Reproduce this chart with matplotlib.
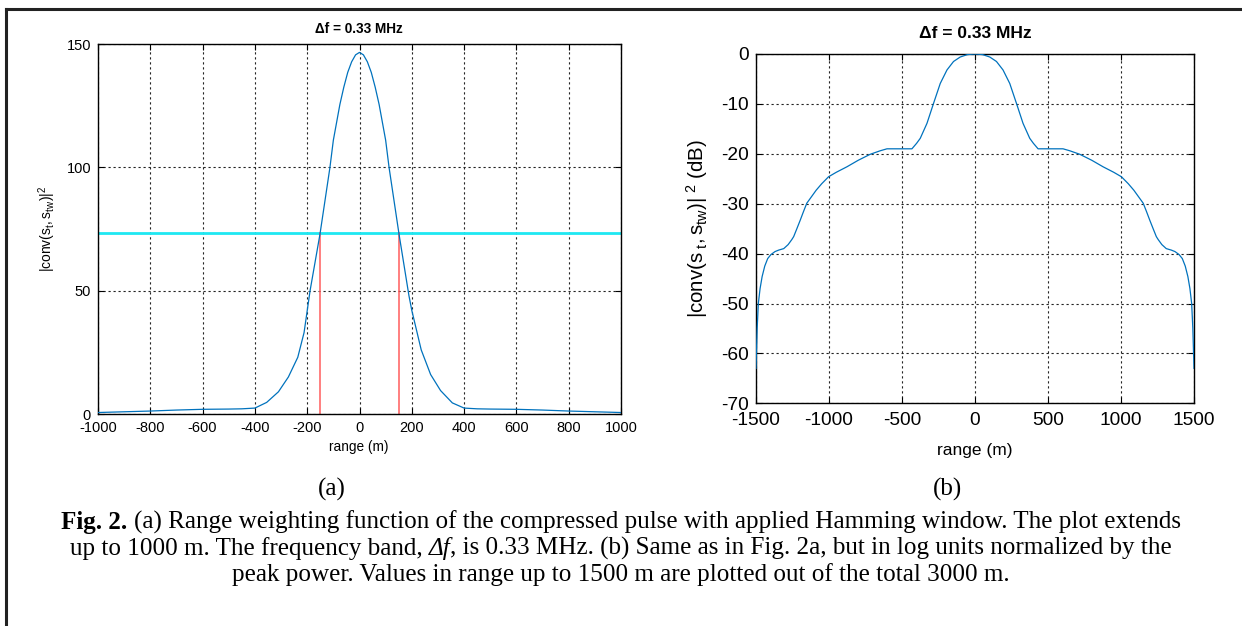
import matplotlib
matplotlib.use('Agg')
import matplotlib.pyplot as plt
from matplotlib.transforms import IdentityTransform
from matplotlib.lines import Line2D

# ---------------- data ----------------
# (a) linear power vs range
range_a = [-1000, -900, -800, -700, -600, -500, -450, -400, -355, -310, -272, -236,
           -212, -189, -151, -113, -100, -75, -60, -45, -30, -15, 0, 15, 30, 45, 60, 75, 100,
           113, 151, 189, 200, 236, 272, 310, 355, 400, 450, 500, 600, 700, 800, 900, 1000]
power_a = [0.6, 0.9, 1.2, 1.6, 1.9, 2.0, 2.1, 2.4, 4.7, 9.0, 15.0, 23.0,
           33.0, 50.0, 73.0, 100.0, 111.0, 125.5, 132.5, 138.5, 142.8, 145.6, 146.6, 145.6, 142.8, 138.5, 132.5, 125.5, 111.0,
           100.0, 73.0, 48.0, 42.0, 26.0, 16.0, 9.5, 4.5, 2.4, 2.1, 2.0, 1.9, 1.6, 1.2, 0.9, 0.6]
half_power = 73.3
half_width_x = [-150, 150]
cyan_x = [-1000, 1000]

# (b) normalized power in dB vs range
range_b = [-1500, -1497, -1492, -1484, -1472, -1458, -1440, -1420, -1398, -1370, -1345,
           -1310, -1280, -1255, -1242, -1220, -1197, -1175, -1152, -1120, -1088, -1050,
           -1003, -950, -877, -800, -718, -650, -603, -520, -432, -400, -375, -329, -284,
           -238, -192, -147, -101, -50, 0,
           50, 101, 147, 192, 238, 284, 329, 375, 400, 432, 520, 603, 650, 718, 800, 877,
           950, 1003, 1050, 1088, 1120, 1152, 1175, 1197, 1220, 1242, 1255, 1280, 1310,
           1345, 1370, 1398, 1420, 1440, 1458, 1472, 1484, 1492, 1497, 1500]
db_b = [-63.0, -60.0, -55.0, -50.0, -47.0, -44.6, -42.5, -41.0, -40.2, -39.6, -39.3,
        -39.0, -38.2, -37.2, -36.6, -35.0, -33.3, -31.6, -29.9, -28.6, -27.3, -26.0,
        -24.6, -23.7, -22.6, -21.3, -20.1, -19.4, -19.0, -19.0, -19.0, -17.9, -16.9, -13.9, -9.9,
        -5.9, -3.2, -1.5, -0.6, -0.1, 0.0,
        -0.1, -0.6, -1.5, -3.2, -5.9, -9.9, -13.9, -16.9, -17.9, -19.0, -19.0, -19.0, -19.4, -20.1, -21.3, -22.6,
        -23.7, -24.6, -26.0, -27.3, -28.6, -29.9, -31.6, -33.3, -35.0, -36.6, -37.2, -38.2, -39.0,
        -39.3, -39.6, -40.2, -41.0, -42.5, -44.6, -47.0, -50.0, -55.0, -60.0, -63.0]

xticks_a = list(range(-1000, 1001, 200))
yticks_a = [0, 50, 100, 150]
xticks_b = list(range(-1500, 1501, 500))
yticks_b = list(range(-70, 1, 10))

title_txt = 'Δf = 0.33 MHz'
xlabel_txt = 'range (m)'
ylabel_a = r'$|\mathrm{conv(s}_{\mathrm{t}}\mathrm{,s}_{\mathrm{tw}}\mathrm{)|}^{2}$'
ylabel_b = r'$|\mathrm{conv(s}_{\ \mathrm{t}}\mathrm{,s}_{\mathrm{tw}}\mathrm{)|}^{\ 2}\ \mathrm{(dB)}$'

cap_line1 = [("Fig. 2.", dict(fontweight='bold'), False),
             ("(a) Range weighting function of the compressed pulse with applied Hamming window. The plot extends", {}, True)]
cap_line2 = [("up to 1000 m. The frequency band,", {}, False),
             ("Δf", dict(style='italic'), True),
             (", is 0.33 MHz. (b) Same as in Fig. 2a, but in log units normalized by the", {}, False)]
cap_line3 = [("peak power. Values in range up to 1500 m are plotted out of the total 3000 m.", {}, False)]

# ---------------- figure ----------------
W, H = 1242, 626
plt.rcParams['font.family'] = ['Liberation Sans', 'DejaVu Sans']
plt.rcParams['axes.unicode_minus'] = False
plt.rcParams['mathtext.fontset'] = 'custom'
plt.rcParams['mathtext.rm'] = 'Liberation Sans'
plt.rcParams['mathtext.it'] = 'Liberation Sans:italic'
plt.rcParams['mathtext.bf'] = 'Liberation Sans:bold'

fig = plt.figure(figsize=(W / 100, H / 100), dpi=100)
fig.patch.set_facecolor('white')
ID = IdentityTransform()


def rect(l, t, r, b):
    return [l / W, 1 - b / H, (r - l) / W, (b - t) / H]


BLUE = '#0072BD'
grid_kw = dict(color='#222222', linestyle=(0, (2, 2.5)), linewidth=0.8)

# ---- (a)
axA = fig.add_axes(rect(98, 44, 621, 414))
axA.plot(range_a, power_a, color=BLUE, lw=0.9, zorder=3)
axA.plot(cyan_x, [half_power, half_power], color='#1ee8f2', lw=2.0, zorder=2)
for xv in half_width_x:
    axA.plot([xv, xv], [0, half_power], color='#ff5c5c', lw=1.1, zorder=2)
axA.set_xlim(-1000, 1000)
axA.set_ylim(0, 150)
axA.set_xticks(xticks_a)
axA.set_yticks(yticks_a)
axA.grid(True, **grid_kw)
axA.tick_params(direction='in', top=True, right=True, length=4, width=0.8,
                labelsize=10.5, pad=5)
for s in axA.spines.values():
    s.set_linewidth(1.0)

# ---- (b)
axB = fig.add_axes(rect(756, 54, 1194, 403.3))
axB.plot(range_b, db_b, color=BLUE, lw=0.9, zorder=3)
axB.set_xlim(-1500, 1500)
axB.set_ylim(-70, 0)
axB.set_xticks(xticks_b)
axB.set_yticks(yticks_b)
axB.grid(True, **grid_kw)
axB.tick_params(direction='in', top=True, right=True, length=4, width=0.8,
                labelsize=13.8, pad=5)
axB.tick_params(axis='x', pad=6)
for s in axB.spines.values():
    s.set_linewidth(1.0)

# titles and labels (pixel positions, y from top)
def ftext(x, y, s, **kw):
    return fig.text(x, H - y, s, transform=ID, **kw)

ftext(359, 29, title_txt, ha='center', va='center', fontsize=9.8, fontweight='bold')
ftext(975, 33, title_txt, ha='center', va='center', fontsize=12.5, fontweight='bold')
ftext(359, 447, xlabel_txt, ha='center', va='center', fontsize=9.8)
ftext(975, 451, xlabel_txt, ha='center', va='center', fontsize=12.5)
ftext(47, 229, ylabel_a, ha='center', va='center', rotation=90, fontsize=10)
ftext(697, 229, ylabel_b, ha='center', va='center', rotation=90, fontsize=14.8)

# outer frame
fig.add_artist(Line2D([6 / W, 1], [1 - 9 / H, 1 - 9 / H], transform=fig.transFigure,
                      color='#222222', lw=2.2))
fig.add_artist(Line2D([6 / W, 6 / W], [0, 1 - 9 / H], transform=fig.transFigure,
                      color='#222222', lw=2.2))

# ---- caption (Times-like serif)
SERIF = ['Liberation Serif', 'DejaVu Serif']
renderer = fig.canvas.get_renderer()


def measure(s, size, **kw):
    t = fig.text(0, 0, s, fontsize=size, family=SERIF, transform=ID, **kw)
    w = t.get_window_extent(renderer=renderer).width
    t.remove()
    return w


def line_width(runs, size):
    sp = measure('a a', size) - measure('aa', size)
    tot = 0
    for s, kw, sb in runs:
        tot += measure(s, size, **kw) + (sp if sb else 0)
    return tot


def draw_runs(runs, xc, y_base, size):
    sp = measure('a a', size) - measure('aa', size)
    x = xc - line_width(runs, size) / 2
    for s, kw, sb in runs:
        if sb:
            x += sp
        fig.text(x, H - y_base, s, fontsize=size, family=SERIF, transform=ID,
                 ha='left', va='baseline', **kw)
        x += measure(s, size, **kw)


ref = 20.0
cap_size = ref * 1118.0 / line_width(cap_line1, ref)

draw_runs(cap_line1, 621, 529, cap_size)
draw_runs(cap_line2, 621, 555, cap_size)
draw_runs(cap_line3, 621, 581, cap_size)
ftext(332, 496, '(a)', ha='center', va='baseline', fontsize=cap_size, family=SERIF)
ftext(947, 496, '(b)', ha='center', va='baseline', fontsize=cap_size, family=SERIF)

fig.savefig('out.png', dpi=100, facecolor='white')
